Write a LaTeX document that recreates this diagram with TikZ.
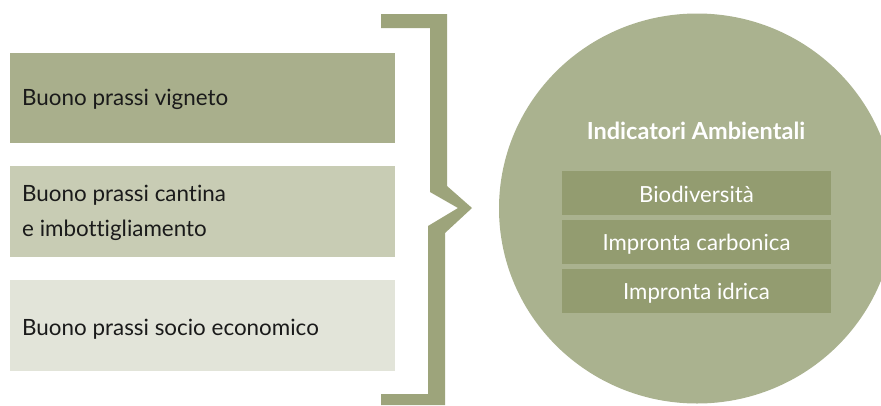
\documentclass[tikz,border=0pt]{standalone}
\usepackage{fontspec}
\setmainfont[Ligatures=NoCommon]{Lato}
\usetikzlibrary{shapes.geometric}
\definecolor{cbox1}{HTML}{A9AF8C}
\definecolor{cbox2}{HTML}{C8CCB4}
\definecolor{cbox3}{HTML}{E2E4D9}
\definecolor{cbrack}{HTML}{9DA47B}
\definecolor{ccirc}{HTML}{AAB28F}
\definecolor{cinner}{HTML}{939C70}
\definecolor{ctext}{HTML}{1A1A1A}
\begin{document}
\begin{tikzpicture}[x=1pt,y=-1pt,
  lbox/.style={draw=none,inner sep=0pt,minimum width=385pt,minimum height=90pt,anchor=north west},
  ltext/.style={anchor=base west,inner sep=0pt,text=ctext,font=\fontsize{22.4}{26}\selectfont},
  ibox/.style={fill=cinner,draw=none,inner sep=0pt,minimum width=269pt,minimum height=44pt,anchor=north},
  itext/.style={anchor=base,inner sep=0pt,text=white,font=\fontsize{22.2}{26}\selectfont},
  htext/.style={anchor=base,inner sep=0pt,text=white,font=\bfseries\fontsize{23.5}{27}\selectfont}]
\useasboundingbox (0,0) rectangle (881,405);
\fill[white] (0,0) rectangle (881,405);
% left boxes
\node[lbox,fill=cbox1] (b1) at (10,53) {};
\node[lbox,fill=cbox2,minimum height=91pt] (b2) at (10,166) {};
\node[lbox,fill=cbox3,minimum height=91pt] (b3) at (10,280) {};
\node[ltext] (t1) at (22,105) {Buono prassi vigneto};
\node[ltext] (t2a) at (22,201.5) {Buono prassi cantina};
\node[ltext] (t2b) at (22,236) {e imbottigliamento};
\node[ltext] (t3) at (22,335) {Buono prassi socio economico};
% bracket
\fill[cbrack] (381,14) -- (447,14) -- (447,186) -- (472,208) -- (445,233) -- (445,405)
  -- (381,405) -- (381,394) -- (428,394) -- (428,226) -- (458,208) -- (430,192)
  -- (430,28) -- (381,28) -- cycle;
% circle
\node[ellipse,fill=ccirc,draw=none,minimum width=396pt,minimum height=390pt,inner sep=0pt] (circ) at (697,208.5) {};
\node[htext] (head) at (696,139) {Indicatori Ambientali};
\node[ibox] (i1) at (696.5,171) {};
\node[ibox] (i2) at (696.5,220) {};
\node[ibox] (i3) at (696.5,269) {};
\node[itext] (it1) at (696.5,202) {Biodiversità};
\node[itext] (it2) at (696.5,250) {Impronta carbonica};
\node[itext] (it3) at (696.5,299) {Impronta idrica};
\end{tikzpicture}
\end{document}
